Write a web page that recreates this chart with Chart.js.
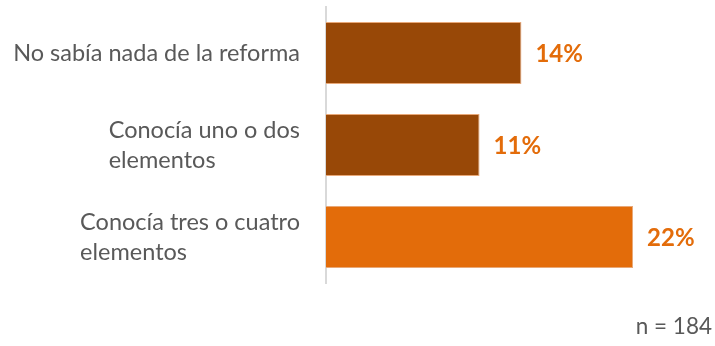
<!DOCTYPE html>
<html>
<head>
<meta charset="utf-8">
<script src="https://cdn.jsdelivr.net/npm/chart.js@4"></script>
<style>
  html, body { margin: 0; padding: 0; background: #fff; }
  canvas { display: block; }
</style>
</head>
<body>
<canvas id="grafico" width="715" height="346"></canvas>
<script>
// datos
const categorias = [
  ["No sabía nada de la reforma"],
  ["Conocía uno o dos", "elementos"],
  ["Conocía tres o cuatro", "elementos"]
];
const valores = [14, 11, 22];
const colores = ["#984807", "#984807", "#E36C0A"];
const nota = "n = 184";

const fuente = "Lato, 'Open Sans', sans-serif";

// etiquetas de categoría alineadas a la izquierda dentro del bloque
const etiquetasPlugin = {
  id: "etiquetas",
  afterDraw(chart) {
    const ctx = chart.ctx;
    const y = chart.scales.y;
    const derecha = 300;
    const alto = 30;
    ctx.save();
    ctx.font = "23.5px " + fuente;
    ctx.fillStyle = "#595959";
    ctx.textBaseline = "middle";
    ctx.textAlign = "left";
    categorias.forEach((lineas, i) => {
      const ancho = Math.max(...lineas.map(l => ctx.measureText(l).width));
      const cy = y.getPixelForValue(i);
      const y0 = cy - (lineas.length - 1) * alto / 2;
      lineas.forEach((l, k) => ctx.fillText(l, derecha - ancho, y0 + k * alto));
    });

    // valores al final de cada barra
    ctx.font = "bold 24px " + fuente;
    ctx.fillStyle = "#E36C0A";
    chart.getDatasetMeta(0).data.forEach((bar, i) => {
      ctx.fillText(valores[i] + "%", bar.x + 14, bar.y + 1);
    });

    // nota
    ctx.font = "22.5px " + fuente;
    ctx.fillStyle = "#595959";
    ctx.textAlign = "right";
    ctx.textBaseline = "alphabetic";
    ctx.fillText(nota, 712, 334);
    ctx.restore();
  }
};

new Chart(document.getElementById("grafico"), {
  type: "bar",
  data: {
    labels: categorias,
    datasets: [{
      data: valores,
      backgroundColor: colores,
      borderColor: "#E8A878",
      borderWidth: 1,
      categoryPercentage: 1,
      barPercentage: 0.674
    }]
  },
  options: {
    indexAxis: "y",
    responsive: false,
    animation: false,
    layout: { padding: { left: 318, right: 40, top: 7, bottom: 63 } },
    plugins: {
      legend: { display: false },
      tooltip: { enabled: false }
    },
    scales: {
      x: {
        min: 0,
        max: 25,
        display: false
      },
      y: {
        grid: { display: false },
        ticks: { display: false },
        border: { display: true, color: "#D9D9D9", width: 2 }
      }
    }
  },
  plugins: [etiquetasPlugin]
});
</script>
</body>
</html>
